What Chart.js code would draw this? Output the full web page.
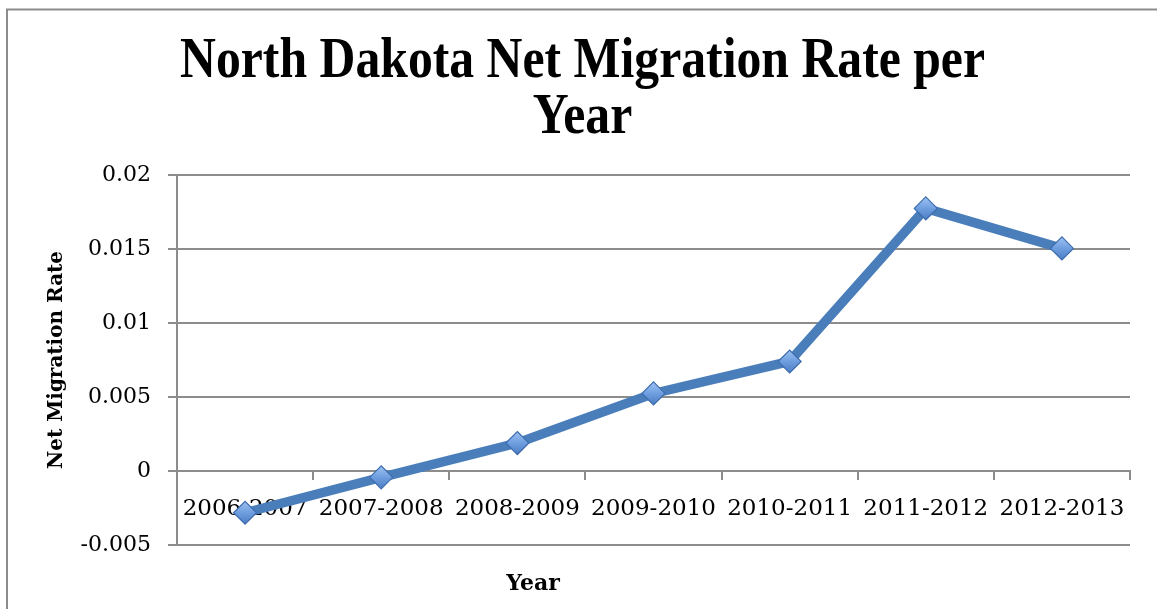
<!DOCTYPE html>
<html>
<head>
<meta charset="utf-8">
<title>North Dakota Net Migration Rate per Year</title>
<script src="https://cdn.jsdelivr.net/npm/chart.js@4"></script>
<style>
  html, body { margin: 0; padding: 0; background: #fff; }
  #wrap { width: 1157px; height: 609px; position: relative; }
</style>
</head>
<body>
<div id="wrap"><canvas id="migrationChart"></canvas></div>
<script>
// ---- data ----
const years = ["2006-2007", "2007-2008", "2008-2009", "2009-2010", "2010-2011", "2011-2012", "2012-2013"];
const netMigration = [-0.00282, -0.00043, 0.00189, 0.00524, 0.0074, 0.01774, 0.01504];
const yTicks = [-0.005, 0, 0.005, 0.01, 0.015, 0.02];

const titleLines = ["North Dakota Net Migration Rate per", "Year"];
const xTitle = "Year";
const yTitle = "Net Migration Rate";

const GRID = "#8c8c8c";
const LINE = "#4a7ebb";

// frame + big condensed title + x axis caption
const decorations = {
  id: "decorations",
  beforeDraw(chart) {
    const c = chart.ctx;
    c.save();
    c.strokeStyle = GRID;
    c.lineWidth = 2;
    c.beginPath();
    c.moveTo(7, chart.height);
    c.lineTo(7, 9.5);
    c.lineTo(chart.width, 9.5);
    c.stroke();
    c.restore();
  },
  afterDraw(chart) {
    const c = chart.ctx;
    c.save();
    c.fillStyle = "#000";
    c.textAlign = "center";
    c.textBaseline = "alphabetic";
    c.font = "bold 57px 'Liberation Serif'";
    const w = c.measureText(titleLines[0]).width;
    const sx = 805 / w;
    const cx = chart.width / 2 + 4;
    titleLines.forEach((t, i) => {
      c.save();
      c.translate(cx, 77 + i * 56);
      c.scale(sx, 1);
      c.fillText(t, 0, 0);
      c.restore();
    });
    c.font = "bold 22px 'DejaVu Serif'";
    c.fillText(xTitle, 533, 590);
    c.restore();
  }
};

const ctx = document.getElementById("migrationChart").getContext("2d");

// diamond markers get a light-to-dark vertical gradient
function markerFill(context) {
  const chart = context.chart;
  const y = chart.scales && chart.scales.y;
  const py = y && context.raw !== undefined ? y.getPixelForValue(context.raw) : NaN;
  if (!Number.isFinite(py)) return "#6b9ad8";
  const g = chart.ctx.createLinearGradient(0, py - 11, 0, py + 11);
  g.addColorStop(0, "#9cc0f0");
  g.addColorStop(0.5, "#6f9edf");
  g.addColorStop(1, "#4d7fc4");
  return g;
}

new Chart(ctx, {
  type: "line",
  data: {
    labels: years,
    datasets: [{
      label: "Net Migration Rate",
      data: netMigration,
      borderColor: LINE,
      borderWidth: 9.5,
      tension: 0,
      pointStyle: "rectRot",
      pointRadius: 11.5,
      pointHoverRadius: 11.5,
      pointBackgroundColor: markerFill,
      pointBorderColor: "#3d6cae",
      pointBorderWidth: 1.2,
      clip: false
    }]
  },
  options: {
    responsive: true,
    maintainAspectRatio: false,
    animation: false,
    layout: { padding: { top: 175, right: 27, bottom: 64, left: 0 } },
    plugins: {
      legend: { display: false },
      title: { display: false },
      tooltip: { enabled: false }
    },
    scales: {
      x: {
        type: "category",
        position: { y: 0 },
        offset: true,
        grid: {
          offset: true,
          drawOnChartArea: false,
          drawTicks: true,
          tickLength: 8,
          color: GRID,
          lineWidth: 2
        },
        border: { display: true, color: GRID, width: 2 },
        ticks: {
          color: "#000",
          padding: 16,
          maxRotation: 0,
          autoSkip: false,
          font: { family: "'DejaVu Serif'", size: 23 }
        }
      },
      y: {
        min: yTicks[0],
        max: yTicks[yTicks.length - 1],
        afterBuildTicks(scale) {
          scale.ticks = yTicks.map(v => ({ value: v }));
        },
        afterFit(scale) { scale.width = 177; },
        grid: {
          color: GRID,
          lineWidth: 2,
          drawTicks: true,
          tickLength: 9
        },
        border: { display: true, color: GRID, width: 2 },
        ticks: {
          color: "#000",
          padding: 17,
          font: { family: "'DejaVu Serif'", size: 22 },
          callback: v => String(parseFloat(Number(v).toFixed(3)))
        },
        title: {
          display: true,
          text: yTitle,
          color: "#000",
          padding: { top: 45, bottom: 0 },
          font: { family: "'DejaVu Serif'", size: 20, weight: "bold" }
        }
      }
    }
  },
  plugins: [decorations]
});
</script>
</body>
</html>
